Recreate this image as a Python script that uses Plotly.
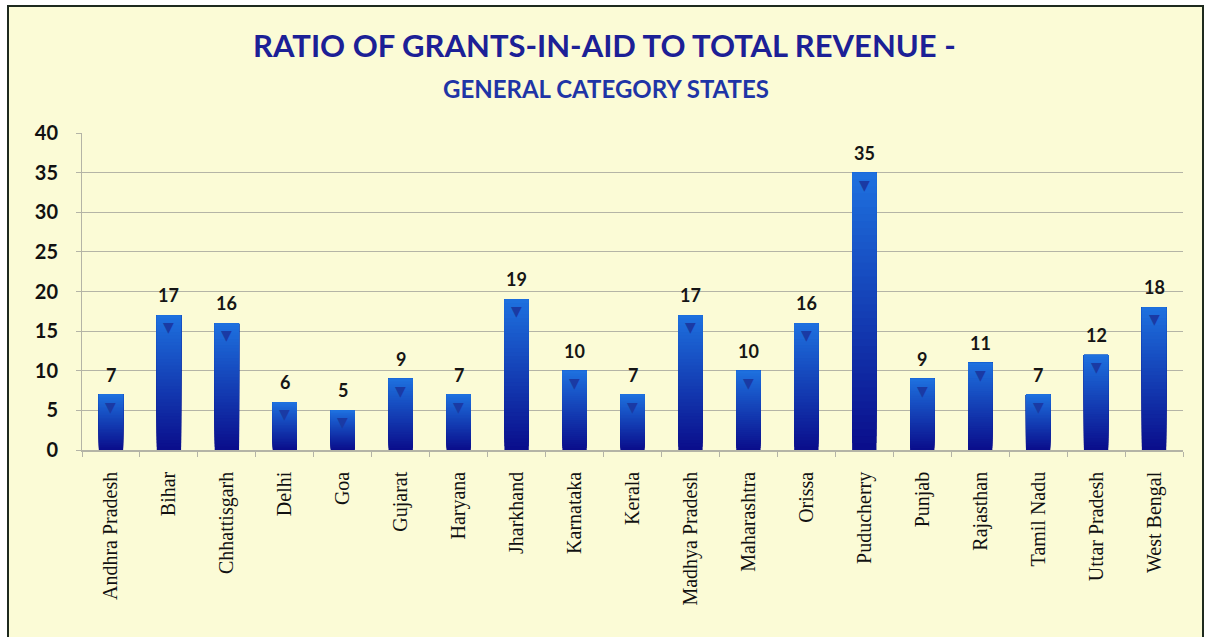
import plotly.graph_objects as go

# Grants-in-aid as a share of total revenue, general category states (%)
states = [
    "Andhra Pradesh", "Bihar", "Chhattisgarh", "Delhi", "Goa", "Gujarat",
    "Haryana", "Jharkhand", "Karnataka", "Kerala", "Madhya Pradesh",
    "Maharashtra", "Orissa", "Puducherry", "Punjab", "Rajasthan",
    "Tamil Nadu", "Uttar Pradesh", "West Bengal",
]
ratio = [7, 17, 16, 6, 5, 9, 7, 19, 10, 7, 17, 10, 16, 35, 9, 11, 7, 12, 18]
y_ticks = [0, 5, 10, 15, 20, 25, 30, 35, 40]

CREAM = "#fbfbd6"
GRID = "#b4b4a6"
NAVY_TITLE = "#1c2096"
SANS = "Lato, Open Sans, sans-serif"

# vertical colour ramp for the bars: deep navy at the base, bright blue on top
bottom_rgb = (10, 14, 140)
top_rgb = (30, 112, 222)
n_steps = 40


def ramp(t):
    r = [round(b + (c - b) * t) for b, c in zip(bottom_rgb, top_rgb)]
    return f"rgb({r[0]},{r[1]},{r[2]})"


fig = go.Figure()
# each layer runs from its start fraction up to the bar top, so the layers
# overlap and the ramp shows no seams
for i in range(n_steps):
    fig.add_trace(go.Bar(
        x=states,
        y=[v * (1 - i / n_steps) for v in ratio],
        base=[v * i / n_steps for v in ratio],
        marker=dict(color=ramp(i / (n_steps - 1)), line=dict(width=0)),
        width=0.42,
        hoverinfo="skip",
        showlegend=False,
    ))

annotations = []
for s, v in zip(states, ratio):
    # value label above each bar
    annotations.append(dict(
        x=s, y=v, xref="x", yref="y", text=f"<b>{v}</b>", showarrow=False,
        yanchor="bottom", yshift=7,
        font=dict(family=SANS, size=18, color="#151515"),
    ))
    # small darker chevron near the top of each bar
    annotations.append(dict(
        x=s, y=v, xref="x", yref="y", text="▼", showarrow=False,
        yanchor="top", yshift=-2,
        font=dict(family="DejaVu Sans", size=14, color="#1a3aa4"),
    ))

annotations.append(dict(
    text="<b>RATIO OF GRANTS-IN-AID TO TOTAL REVENUE -</b>",
    xref="paper", yref="paper", x=(604 - 82) / 1101, y=(450 - 45) / 317,
    xanchor="center", yanchor="middle", showarrow=False,
    font=dict(family=SANS, size=31, color=NAVY_TITLE),
))
annotations.append(dict(
    text="<b>GENERAL CATEGORY STATES</b>",
    xref="paper", yref="paper", x=(606 - 82) / 1101, y=(450 - 88) / 317,
    xanchor="center", yanchor="middle", showarrow=False,
    font=dict(family=SANS, size=24, color="#1f35a6"),
))

shapes = [
    # cream chart panel with dark frame
    dict(type="rect", xref="paper", yref="paper", layer="below",
         x0=(8 - 82) / 1101, x1=(1203 - 82) / 1101,
         y0=(450 - 660) / 317, y1=(450 - 6) / 317,
         fillcolor=CREAM, line=dict(color="#1e2a1e", width=2)),
]

fig.update_layout(
    width=1205, height=637,
    margin=dict(l=82, r=22, t=133, b=187),
    paper_bgcolor="white",
    plot_bgcolor="rgba(0,0,0,0)",
    barmode="overlay",
    bargap=0.58,
    shapes=shapes,
    annotations=annotations,
    showlegend=False,
    xaxis=dict(
        type="category",
        tickangle=-90,
        tickfont=dict(family="Liberation Serif, serif", size=20, color="#111111"),
        ticklabelstandoff=12,
        showgrid=False,
        showline=True, linecolor=GRID, linewidth=1.5,
        ticks="outside", tickson="boundaries", ticklen=5, tickcolor=GRID,
        zeroline=False,
    ),
    yaxis=dict(
        range=[0, 40],
        tickvals=y_ticks,
        tickfont=dict(family=SANS, size=20, color="#111111", weight="bold"),
        ticklabelstandoff=14,
        showgrid=True, gridcolor=GRID, gridwidth=1,
        showline=True, linecolor=GRID, linewidth=1,
        ticks="outside", ticklen=5, tickcolor=GRID,
        zeroline=False,
    ),
)

fig.write_html("out.html")
